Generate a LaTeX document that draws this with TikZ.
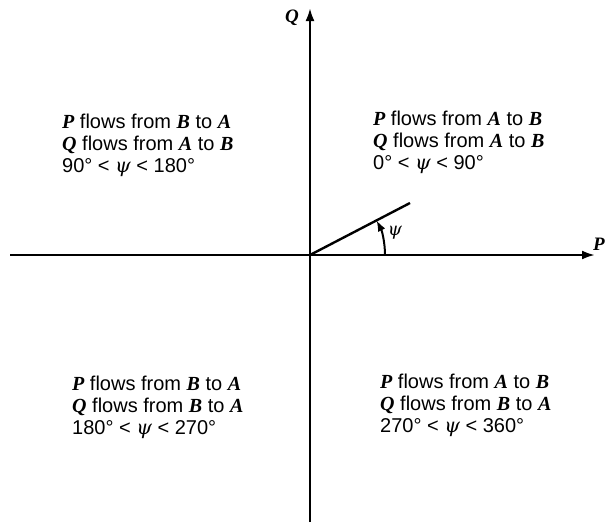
\documentclass[tikz,border=0pt]{standalone}
\usepackage{fontspec}
\setmainfont{Liberation Sans}
\newfontfamily\serifbi{Liberation Serif}[BoldFont={Liberation Serif Bold Italic}]
\usetikzlibrary{arrows.meta}
\newcommand{\V}[1]{{\serifbi\bfseries #1}}
\newcommand{\psiSym}{{\fontspec{DejaVu Serif}\itshape ψ}}
\tikzset{
  axis/.style={line width=2.4pt,-{Latex[length=13pt,width=9pt]}},
  vec/.style={line width=2.4pt},
  arcarrow/.style={line width=2pt,-{Latex[length=11pt,width=8pt]}},
  region/.style={align=left,anchor=north west,font=\fontsize{20}{22}\selectfont,inner sep=0pt},
  axlabel/.style={font=\fontsize{19}{20}\selectfont,inner sep=0pt}
}
\begin{document}
\begin{tikzpicture}[x=1pt,y=-1pt]
\useasboundingbox (0,0) rectangle (606,528);
\coordinate (O) at (310,255);
\coordinate (L) at (10,255);
\coordinate (R) at (595,255);
\coordinate (T) at (310,8);
\coordinate (D) at (310,522);
\coordinate (E) at (410,203);
\draw[axis] (L) -- (R);
\draw[axis] (D) -- (T);
\draw[vec] (O) -- (E);
\draw[arcarrow] (O) ++(0:75) arc[start angle=0,end angle=-27.5,radius=75];
\node[axlabel,anchor=east] (q) at (299,18) {\V{Q}};
\node[axlabel,anchor=east] (p) at (605,244) {\V{P}};
\node[font=\fontsize{18}{18}\selectfont,inner sep=0pt] (psi) at (395,233) {\psiSym};
\node[region] (tl) at (62,114) {\V{P} flows from \V{B} to \V{A}\\ \V{Q} flows from \V{A} to \V{B}\\ 90° < \psiSym{} < 180°};
\node[region] (tr) at (373,111) {\V{P} flows from \V{A} to \V{B}\\ \V{Q} flows from \V{A} to \V{B}\\ 0° < \psiSym{} < 90°};
\node[region] (bl) at (72,376) {\V{P} flows from \V{B} to \V{A}\\ \V{Q} flows from \V{B} to \V{A}\\ 180° < \psiSym{} < 270°};
\node[region] (br) at (380,374) {\V{P} flows from \V{A} to \V{B}\\ \V{Q} flows from \V{B} to \V{A}\\ 270° < \psiSym{} < 360°};
\end{tikzpicture}
\end{document}
